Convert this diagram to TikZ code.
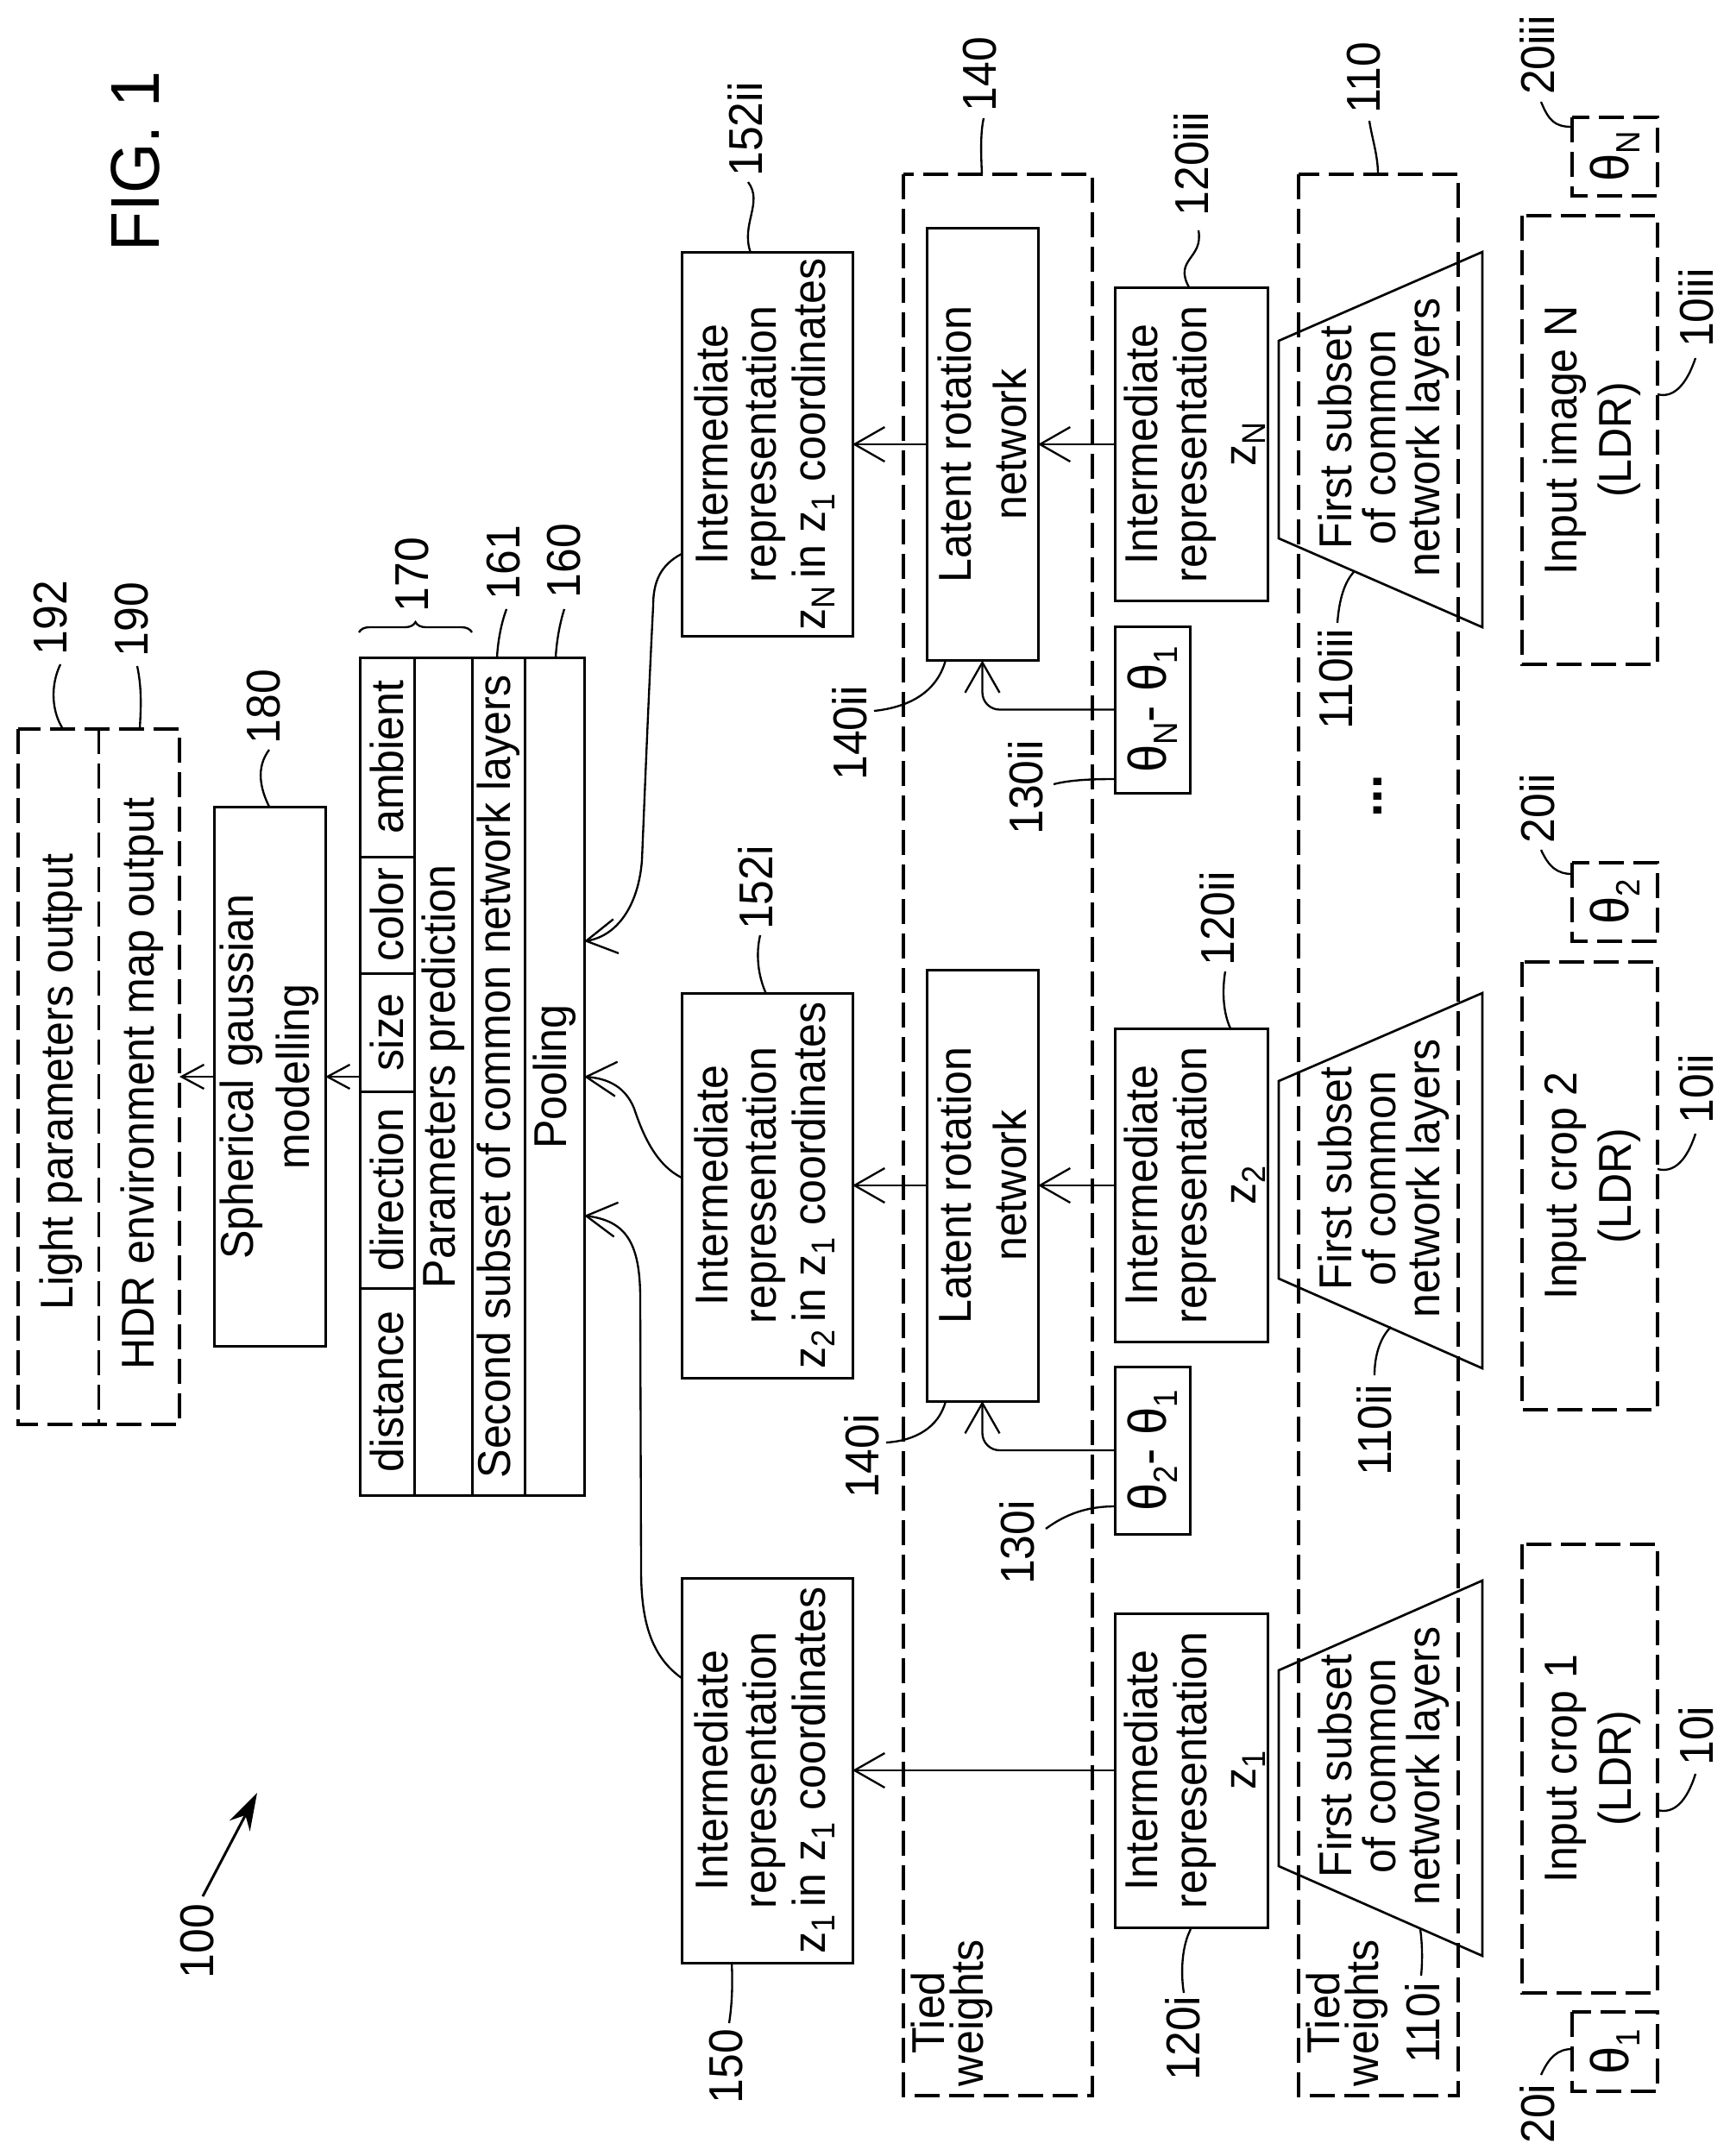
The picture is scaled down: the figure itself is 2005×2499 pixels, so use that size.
\documentclass[tikz,border=0pt]{standalone}
\usepackage{fontspec}
\setmainfont[FakeStretch=0.94]{Liberation Sans}
\usetikzlibrary{arrows.meta,decorations.pathreplacing,calc}
\newcommand{\sbs}[1]{\raisebox{-0.2em}{\fontsize{11.5}{12}\selectfont #1}}
\newcommand{\sbt}[1]{\raisebox{-3.9pt}{\fontsize{11.7}{12}\selectfont #1}}
\newcommand{\dep}[1]{\raisebox{0pt}[0pt][#1]{}}
\newcommand{\hgt}[1]{\rule{0pt}{#1}}
\newcommand{\ldr}[5]{\coordinate (#1a) at (#2); \coordinate (#1b) at (#5); \draw[lead] (#1a) .. controls (#3) and (#4) .. (#1b);}
\tikzset{
  x=0.3pt,y=-0.3pt,
  every node/.style={inner sep=0pt,outer sep=0pt},
  txt/.style={rotate=90,align=center,font=\fontsize{16}{17.1}\selectfont},
  box/.style 2 args={draw,line width=0.9pt,txt,minimum width=#1*0.3pt,minimum height=#2*0.3pt},
  dashes/.style={line width=0.95pt,dash pattern=on 8.8pt off 3.2pt},
  dbox/.style 2 args={box={#1}{#2},dashes},
  lab/.style={rotate=90,font=\fontsize{16.5}{18}\selectfont},
  lead/.style={line width=0.7pt},
  arr/.style={line width=0.7pt,-{Straight Barb[length=10.5pt,width=12pt]}},
  arrsmall/.style={line width=0.7pt,-{Straight Barb[length=7.8pt,width=8.4pt]}},
  trap/.style={line width=0.8pt},
  thetatext/.style={font=\fontsize{18.5}{20}\selectfont},
  traptext/.style={rotate=90,align=center,font=\fontsize{16}{15.3}\selectfont},
  tied/.style={rotate=90,align=center,font=\fontsize{16}{13.5}\selectfont},
}
\begin{document}
\begin{tikzpicture}
\useasboundingbox (0,0) rectangle (2005,2499);
% title
\node[rotate=90,font=\fontsize{24}{26}\selectfont] (fig) at (157,187) {FIG. 1};
% outputs
\node[dbox={806}{187}] (outbox) at (114.5,1248) {};
\draw[dashes] (outbox.east) -- (outbox.west);
\node[txt] (light) at (67.5,1254) {\hgt{13.7pt}Light parameters output};
\node[txt] (hdr) at (161,1256) {\hgt{13.7pt}HDR environment map output};
\node[box={625}{129},font=\fontsize{16}{19.5}\selectfont] (sph) at (312.5,1248) {Spherical gaussian\\modelling};
% stack
\node[box={971}{69}] (pool) at (642.5,1248) {Pooling};
\node[box={971}{61}] (second) at (577.5,1248) {Second subset of common network layers};
\node[box={971}{67}] (params) at (513.5,1248) {Parameters prediction};
\node[box={231}{63}] (ambient) at (448.5,877.5) {ambient};
\node[box={135}{63}] (color) at (448.5,1060.5) {color};
\node[box={137}{63}] (size) at (448.5,1196.5) {size};
\node[box={228}{63}] (direction) at (448.5,1379) {direction};
\node[box={240}{63}] (distance) at (448.5,1613) {distance};
\coordinate (bra) at (416,733); \coordinate (brb) at (547,733);
\draw[line width=0.7pt,decorate,decoration={brace,amplitude=3.6pt}] (bra) -- (brb);
% intermediate in z1 coords
\node[box={445}{198}] (rN) at (889,515) {Intermediate\\representation\\z\sbs{N}\,in z\sbs{1} coordinates\dep{5pt}};
\node[box={446}{198}] (r2) at (889,1374) {Intermediate\\representation\\z\sbs{2}\,in z\sbs{1} coordinates\dep{5pt}};
\node[box={446}{198}] (r1) at (889,2052) {Intermediate\\representation\\z\sbs{1}\,in z\sbs{1} coordinates\dep{5pt}};
% dashed regions
\node[dbox={2227}{219}] (reg140) at (1156.5,1315.5) {};
\node[dbox={2227}{185}] (reg110) at (1597.5,1315.5) {};
\node[tied] (tw140) at (1103.5,2333) {Tied\\weights};
\node[tied] (tw110) at (1561.5,2333) {Tied\\weights};
% latent
\node[box={501}{129},font=\fontsize{16}{19.2}\selectfont] (latN) at (1138.5,515) {Latent rotation\\network};
\node[box={500}{129},font=\fontsize{16}{19.2}\selectfont] (lat2) at (1138.5,1374) {Latent rotation\\network};
% z boxes
\node[box={363}{177}] (zN) at (1380.5,515) {\hgt{14.1pt}Intermediate\\representation\\z\sbs{N}};
\node[box={363}{177}] (z2) at (1380.5,1374) {\hgt{14.1pt}Intermediate\\representation\\z\sbs{2}};
\node[box={364}{177}] (z1) at (1380.5,2052) {\hgt{14.1pt}Intermediate\\representation\\z\sbs{1}};
% theta difference
\node[box={193}{87},thetatext] (thN) at (1335.5,822.5) {θ\sbt{N}- θ\sbt{1}};
\node[box={194}{87},thetatext] (th2) at (1335.5,1681) {θ\sbt{2}- θ\sbt{1}};
% trapezoids
\draw[trap] (1482,395) -- (1718,292) -- (1718,727) -- (1482,624) -- cycle;
\draw[trap] (1482,1253) -- (1718,1151) -- (1718,1586) -- (1482,1482) -- cycle;
\draw[trap] (1482,1936) -- (1718,1832) -- (1718,2267) -- (1482,2163) -- cycle;
\node[traptext] (tN) at (1604,507) {First subset\\of common\\network layers};
\node[traptext] (t2) at (1604,1366) {First subset\\of common\\network layers};
\node[traptext] (t1) at (1604,2047) {First subset\\of common\\network layers};
\node[font=\bfseries\fontsize{19}{19}\selectfont,rotate=90] (dots) at (1597,923) {...};
% inputs
\node[dbox={520}{157},font=\fontsize{16}{18.9}\selectfont] (inN) at (1842.5,510) {\hgt{13.5pt}Input image N\\(LDR)};
\node[dbox={519}{157},font=\fontsize{16}{18.9}\selectfont] (in2) at (1842.5,1374.5) {\hgt{13.5pt}Input crop 2\\(LDR)};
\node[dbox={520}{157},font=\fontsize{16}{18.9}\selectfont] (in1) at (1842.5,2050) {\hgt{13.5pt}Input crop 1\\(LDR)};
\node[dbox={91}{99},thetatext] (aN) at (1871.5,181.5) {θ\sbt{N}};
\node[dbox={91}{99},thetatext] (a2) at (1871.5,1045.5) {θ\sbt{2}};
\node[dbox={92}{99},thetatext] (a1) at (1871.5,2378) {θ\sbt{1}};
% arrows
\coordinate (stkL) at (417,1248);
\coordinate (hdrR) at (208,1248);
\draw[arrsmall] (sph.north) -- (hdrR);
\draw[arrsmall] (stkL) -- (sph.south);
\draw[arr] (latN.north) -- (rN.south);
\draw[arr] (lat2.north) -- (r2.south);
\draw[arr] (zN.north) -- (latN.south);
\draw[arr] (z2.north) -- (lat2.south);
\draw[arr] (z1.north) -- (r1.south);
\draw[arr,rounded corners=6pt] (thN.north) -| (latN.west);
\draw[arr,rounded corners=6pt] (th2.north) -| (lat2.west);
% curved arrows into pooling
\coordinate (sA) at (790,642); \coordinate (tA) at (677,1091);
\draw[arr] (sA) .. controls (765,655) and (757,675) .. (757,702) .. controls (752,800) and (748,900) .. (744,997) .. controls (740,1050) and (715,1085) .. (tA);
\coordinate (sB) at (790,1365);
\draw[arr] (sB) .. controls (760,1350) and (745,1315) .. (735,1285) .. controls (725,1260) and (705,1250) .. (pool.south);
\coordinate (sC) at (790,1945); \coordinate (tC) at (677,1409);
\draw[arr] (sC) .. controls (755,1920) and (743,1880) .. (743,1820) -- (742,1505) .. controls (742,1440) and (725,1415) .. (tC);
% overall arrow
\node[lab] (l100) at (229,2250) {100};
\coordinate (a100a) at (235,2198); \coordinate (a100b) at (298,2078);
\draw[line width=0.9pt,-{Stealth[length=13pt,width=8pt]}] (a100a) -- (a100b);
% labels
\node[lab] (l170) at (478,666) {170};
\node[lab] (l161) at (584,652) {161};
\node[lab] (l160) at (654,650) {160};
\node[lab] (l192) at (59,716) {192};
\node[lab] (l190) at (153,718) {190};
\node[lab] (l180) at (306,819) {180};
\node[lab] (l152ii) at (864,150) {152ii};
\node[lab] (l152i) at (876,1029) {152i};
\node[lab] (l150) at (842,2395) {150};
\node[lab] (l130ii) at (1189,913) {130ii};
\node[lab] (l130i) at (1179,1788) {130i};
\node[lab] (l140ii) at (985,850) {140ii};
\node[lab] (l140i) at (999,1688) {140i};
\node[lab] (l140) at (1136,86) {140};
\node[lab] (l110) at (1581,90) {110};
\node[lab] (l20iii) at (1782,64) {20iii};
\node[lab] (l20ii) at (1782,937) {20ii};
\node[lab] (l20i) at (1782,2450) {20i};
\node[lab] (l10iii) at (1966,357) {10iii};
\node[lab] (l10ii) at (1966,1262) {10ii};
\node[lab] (l10i) at (1966,2012) {10i};
\node[lab] (l120iii) at (1381,190) {120iii};
\node[lab] (l120ii) at (1411,1065) {120ii};
\node[lab] (l120i) at (1371,2363) {120i};
\node[lab] (l110iii) at (1548,787) {110iii};
\node[lab] (l110ii) at (1593,1658) {110ii};
\node[lab] (l110i) at (1649,2345) {110i};
% leaders
\ldr{k192}{70,770}{58,795}{60,825}{73,845}
\ldr{k190}{159,772}{165,800}{163,825}{162,845}
\ldr{k180}{312,869}{296,890}{302,915}{312,935}
\ldr{k161}{587,706}{580,725}{577,745}{576,762}
\ldr{k160}{654,706}{648,725}{645,745}{644,762}
\ldr{k152ii}{867,211}{885,235}{858,260}{870,293}
\ldr{k152i}{881,1084}{876,1105}{878,1130}{888,1152}
\ldr{k150}{845,2345}{849,2320}{849,2295}{848,2274}
\ldr{k130ii}{1221,909}{1240,904}{1265,903}{1292,903}
\ldr{k130i}{1212,1772}{1235,1755}{1260,1746}{1292,1746}
\ldr{k140ii}{1013,824}{1050,820}{1085,805}{1096,765}
\ldr{k140i}{1027,1672}{1060,1670}{1088,1655}{1096,1624}
\ldr{k140}{1140,137}{1136,155}{1137,180}{1138,202}
\ldr{k110}{1587,140}{1590,160}{1597,180}{1597,202}
\ldr{k20iii}{1786,118}{1795,140}{1802,147}{1822,147}
\ldr{k20ii}{1786,985}{1795,1005}{1805,1013}{1822,1013}
\ldr{k20i}{1786,2405}{1795,2385}{1805,2375}{1822,2375}
\ldr{k10iii}{1965,415}{1955,445}{1940,462}{1921,457}
\ldr{k10ii}{1965,1314}{1955,1345}{1940,1360}{1921,1355}
\ldr{k10i}{1965,2056}{1955,2088}{1940,2103}{1921,2098}
\ldr{k120iii}{1389,267}{1395,300}{1360,300}{1378,333}
\ldr{k120ii}{1420,1126}{1416,1150}{1418,1175}{1426,1192}
\ldr{k120i}{1372,2310}{1368,2285}{1370,2255}{1380,2236}
\ldr{k110iii}{1550,722}{1552,695}{1558,675}{1569,663}
\ldr{k110ii}{1593,1594}{1593,1570}{1600,1550}{1612,1538}
\ldr{k110i}{1647,2290}{1649,2270}{1648,2250}{1646,2236}
\end{tikzpicture}
\end{document}
